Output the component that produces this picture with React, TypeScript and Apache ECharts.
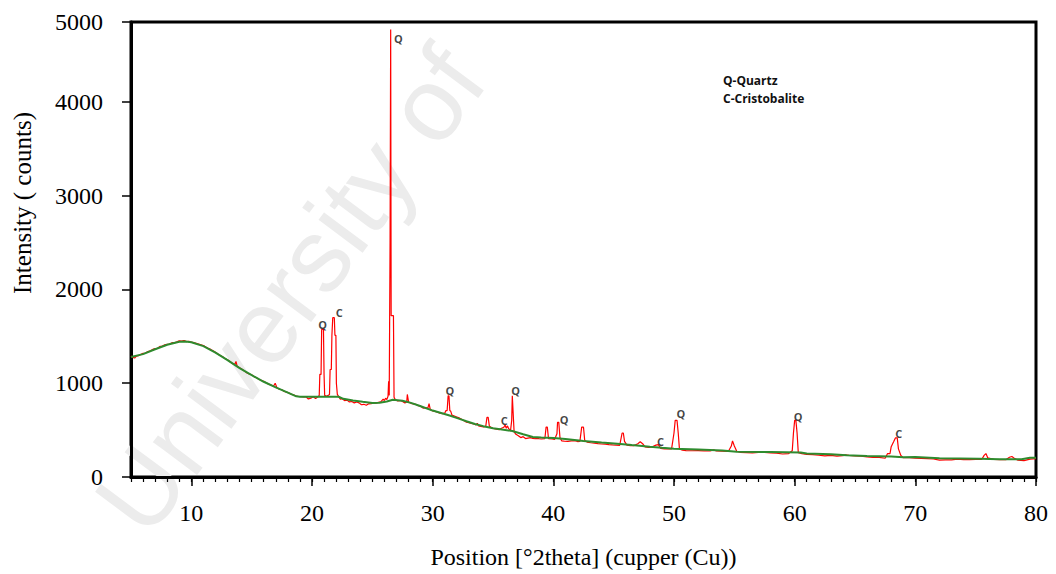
import React, { useEffect, useRef } from "react";
import * as echarts from "echarts";

// Measured diffraction pattern: [2theta, counts]
const measured: number[][] = [
  [5.0, 1290], [5.15, 1275], [5.3, 1268], [5.45, 1290], [5.6, 1292], [5.8, 1305], [6.0, 1318], [6.2, 1322],
  [6.4, 1338], [6.6, 1345], [6.8, 1360], [7.0, 1368], [7.2, 1372], [7.4, 1392], [7.6, 1395], [7.8, 1408],
  [8.0, 1415], [8.2, 1418], [8.4, 1432], [8.6, 1430], [8.8, 1440], [9.0, 1452], [9.2, 1448], [9.4, 1455],
  [9.6, 1443], [9.8, 1447], [10.0, 1438], [10.2, 1432], [10.4, 1425], [10.6, 1418], [10.8, 1410], [11.0, 1402],
  [11.2, 1385], [11.4, 1372], [11.6, 1360], [11.8, 1345], [12.0, 1330], [12.2, 1312], [12.4, 1295], [12.6, 1282],
  [12.8, 1262], [13.0, 1250], [13.2, 1232], [13.4, 1210], [13.6, 1200], [13.7, 1232], [13.8, 1180], [14.0, 1165],
  [14.2, 1148], [14.4, 1130], [14.6, 1110], [14.8, 1098], [15.0, 1090], [15.2, 1070], [15.4, 1058], [15.6, 1042],
  [15.8, 1030], [16.0, 1020], [16.2, 1005], [16.4, 990], [16.6, 980], [16.8, 968], [16.95, 1000], [17.1, 950],
  [17.3, 935], [17.5, 930], [17.7, 912], [17.9, 905], [18.1, 895], [18.3, 880], [18.5, 875], [18.7, 862],
  [18.9, 858], [19.1, 856], [19.3, 855], [19.5, 856], [19.7, 832], [19.9, 840], [20.1, 855], [20.3, 838],
  [20.5, 855], [20.6, 870], [20.65, 1094], [20.75, 1094], [20.8, 1573], [20.95, 1573], [21.0, 1090], [21.05, 870],
  [21.2, 860], [21.35, 870], [21.45, 880], [21.5, 1146], [21.6, 1146], [21.65, 1510], [21.72, 1698], [21.85, 1698],
  [21.9, 1510], [21.98, 1510], [22.02, 1000], [22.1, 880], [22.2, 860], [22.35, 830], [22.5, 835], [22.7, 815],
  [22.9, 820], [23.1, 800], [23.3, 805], [23.5, 790], [23.7, 800], [23.9, 790], [24.1, 770], [24.3, 775],
  [24.5, 765], [24.7, 780], [24.9, 782], [25.1, 790], [25.3, 788], [25.5, 795], [25.7, 800], [25.9, 830],
  [26.0, 815], [26.1, 840], [26.2, 825], [26.3, 860], [26.35, 1020], [26.4, 870], [26.44, 870], [26.47, 2510],
  [26.52, 4770], [26.56, 1720], [26.75, 1720], [26.8, 850], [26.9, 825], [27.1, 810], [27.3, 815], [27.5, 805],
  [27.7, 790], [27.85, 800], [27.9, 880], [28.0, 800], [28.2, 785], [28.4, 780], [28.6, 775], [28.8, 760],
  [29.0, 755], [29.2, 735], [29.4, 740], [29.6, 735], [29.7, 781], [29.8, 720], [30.0, 705], [30.2, 700],
  [30.4, 690], [30.6, 680], [30.8, 676], [31.0, 680], [31.1, 708], [31.2, 708], [31.28, 865], [31.35, 865],
  [31.42, 708], [31.5, 700], [31.6, 660], [31.8, 650], [32.0, 640], [32.2, 630], [32.4, 615], [32.6, 600],
  [32.8, 585], [33.0, 578], [33.2, 570], [33.4, 565], [33.6, 555], [33.7, 573], [33.8, 545], [34.0, 540],
  [34.2, 535], [34.4, 540], [34.5, 635], [34.6, 635], [34.7, 540], [34.9, 525], [35.1, 515], [35.3, 510],
  [35.5, 505], [35.7, 520], [35.9, 530], [36.0, 555], [36.1, 520], [36.2, 545], [36.3, 515], [36.45, 490],
  [36.55, 604], [36.6, 865], [36.65, 865], [36.7, 604], [36.75, 480], [36.9, 455], [37.1, 440], [37.3, 420],
  [37.5, 430], [37.7, 410], [37.9, 415], [38.1, 420], [38.3, 412], [38.5, 408], [38.8, 408], [39.0, 405],
  [39.3, 410], [39.4, 531], [39.5, 531], [39.6, 410], [39.9, 405], [40.1, 400], [40.3, 460], [40.35, 583],
  [40.45, 583], [40.55, 420], [40.7, 385], [40.9, 382], [41.2, 380], [41.5, 385], [41.8, 388], [42.0, 378],
  [42.2, 380], [42.35, 531], [42.5, 531], [42.6, 390], [42.8, 372], [43.1, 365], [43.4, 360], [43.7, 355],
  [44.0, 352], [44.3, 350], [44.6, 345], [44.9, 342], [45.2, 340], [45.5, 338], [45.7, 469], [45.8, 469],
  [45.9, 380], [46.1, 340], [46.4, 333], [46.7, 335], [47.0, 355], [47.2, 375], [47.4, 355], [47.6, 320],
  [47.9, 315], [48.2, 322], [48.5, 340], [48.7, 345], [48.9, 305], [49.2, 300], [49.5, 300], [49.8, 300],
  [50.0, 469], [50.1, 604], [50.25, 604], [50.35, 469], [50.45, 300], [50.7, 285], [51.0, 282], [51.5, 280],
  [52.0, 282], [52.5, 278], [53.0, 278], [53.3, 290], [53.5, 278], [54.0, 275], [54.5, 272], [54.75, 330],
  [54.85, 385], [55.0, 330], [55.2, 275], [55.5, 262], [56.0, 260], [56.5, 258], [57.0, 262], [57.5, 262],
  [58.0, 258], [58.5, 255], [59.0, 245], [59.5, 250], [59.8, 280], [59.9, 469], [60.0, 604], [60.1, 604],
  [60.2, 469], [60.3, 260], [60.6, 250], [61.0, 240], [61.5, 238], [62.0, 232], [62.5, 225], [63.0, 230],
  [63.5, 222], [64.0, 228], [64.2, 235], [64.5, 230], [65.0, 225], [65.5, 222], [66.0, 215], [66.5, 210],
  [67.0, 210], [67.5, 200], [67.7, 250], [67.9, 250], [68.0, 323], [68.2, 375], [68.35, 417], [68.5, 417],
  [68.6, 300], [68.8, 230], [69.0, 205], [69.5, 205], [70.0, 200], [70.5, 198], [71.0, 195], [71.5, 192],
  [72.0, 180], [72.5, 182], [73.0, 182], [73.5, 190], [74.0, 185], [74.5, 185], [75.0, 187], [75.5, 187],
  [75.7, 230], [75.85, 250], [76.0, 205], [76.5, 188], [77.0, 185], [77.5, 185], [77.8, 210], [78.0, 218],
  [78.2, 200], [78.5, 180], [79.0, 175], [79.5, 190], [80.0, 195],
];

// Fitted background: [2theta, counts]
const background: number[][] = [
  [5, 1280], [6, 1310], [7, 1362], [8, 1410], [9, 1442], [9.5, 1445], [10, 1436], [11, 1395],
  [12, 1325], [13, 1245], [14, 1160], [15, 1085], [16, 1015], [17, 955], [18, 900], [18.7, 860],
  [19, 855], [22.2, 855], [22.6, 833], [23.4, 815], [24.2, 802], [25, 790], [25.6, 792], [26.2, 805],
  [26.7, 823], [27.5, 812], [28.2, 790], [28.9, 760], [30, 708], [31.4, 656], [32.1, 625], [32.8, 594],
  [33.5, 565], [34.2, 542], [35, 520], [35.6, 510], [36.6, 490], [37.5, 455], [38.3, 427], [39, 420],
  [40, 417], [41, 405], [42.5, 385], [44, 368], [45.3, 354], [46.5, 340], [48, 323], [49, 312],
  [50, 302], [52, 292], [54, 282], [55.2, 270], [58, 266], [60.5, 262], [61, 250], [63, 242],
  [64.3, 233], [66, 225], [68, 218], [69, 210], [70, 212], [72, 200], [75.3, 194], [77, 190],
  [78.8, 190], [79.5, 205], [80, 205],
];

// Phase labels
const peakNames: string[] = ["Q", "C", "Q", "Q", "C", "Q", "Q", "C", "Q", "Q", "C"];
const peakX: number[] = [20.88, 22.26, 27.15, 31.43, 35.93, 36.87, 40.9, 48.88, 50.57, 60.29, 68.63];
const peakY: number[] = [1628, 1757, 4674, 924, 597, 924, 611, 378, 680, 646, 465];

const yTickLabels: string[] = ["0", "1000", "2000", "3000", "4000", "5000"];
const legendLines: string[] = ["Q-Quartz", "C-Cristobalite"];

const serif = "'Liberation Serif', 'Times New Roman', serif";
const sans = "'Open Sans', 'Liberation Sans', sans-serif";

export default function App() {
  const ref = useRef<HTMLDivElement>(null);

  useEffect(() => {
    if (!ref.current) return;
    const chart = echarts.init(ref.current, undefined, { renderer: "svg" });
    chart.setOption({
      animation: false,
      backgroundColor: "#ffffff",
      grid: {
        left: 131,
        right: 20,
        top: 22,
        bottom: 86,
        show: true,
        borderColor: "#000",
        borderWidth: 3,
        backgroundColor: "transparent",
      },
      xAxis: [
        {
          type: "value",
          min: 5,
          max: 80,
          interval: 1,
          position: "bottom",
          axisLine: { show: false },
          axisTick: { show: true, inside: false, length: 5, lineStyle: { color: "#000", width: 1.2 } },
          axisLabel: { show: false },
          splitLine: { show: false },
        },
        {
          type: "value",
          min: 5,
          max: 80,
          splitNumber: 8,
          minInterval: 10,
          maxInterval: 10,
          position: "bottom",
          name: "Position [°2theta] (cupper (Cu))",
          nameLocation: "middle",
          nameGap: 68,
          nameTextStyle: { fontFamily: serif, fontSize: 24, color: "#000" },
          axisLine: { show: true, lineStyle: { color: "#000", width: 3 } },
          axisTick: { show: true, inside: false, length: 9, lineStyle: { color: "#000", width: 1.5 } },
          axisLabel: {
            showMinLabel: false,
            margin: 24,
            fontFamily: serif,
            fontSize: 24,
            color: "#000",
          },
          splitLine: { show: false },
        },
      ],
      yAxis: {
        type: "value",
        min: 0,
        max: 4850,
        interval: 1000,
        axisLine: { show: true, lineStyle: { color: "#000", width: 3 } },
        axisTick: { show: true, inside: false, length: 9, lineStyle: { color: "#000", width: 1.5 } },
        axisLabel: {
          margin: 28,
          fontFamily: serif,
          fontSize: 24,
          color: "#000",
          formatter: (_v: number, i: number) => yTickLabels[i] ?? "",
        },
        splitLine: { show: false },
      },
      graphic: [
        {
          type: "text",
          x: 290,
          y: 290,
          rotation: 0.93,
          z: 0,
          silent: true,
          style: {
            text: "University of",
            fontFamily: "'Liberation Sans', sans-serif",
            fontSize: 104,
            fill: "#ececec",
            align: "center",
            verticalAlign: "middle",
          },
        },
        {
          type: "text",
          x: 22,
          y: 203,
          rotation: Math.PI / 2,
          style: {
            text: "Intensity ( counts)",
            fontFamily: serif,
            fontSize: 25,
            fill: "#000",
            align: "center",
            verticalAlign: "middle",
          },
        },
        ...legendLines.map((t, i) => ({
          type: "text",
          x: 723,
          y: 80 + i * 18,
          style: {
            text: t,
            fontFamily: sans,
            fontWeight: "bold",
            fontSize: 12,
            fill: "#111",
            align: "left",
            verticalAlign: "middle",
          },
        })),
      ],
      series: [
        {
          type: "line",
          xAxisIndex: 1,
          data: measured,
          symbol: "none",
          z: 3,
          lineStyle: { color: "#ff0000", width: 1.2 },
        },
        {
          type: "line",
          xAxisIndex: 1,
          data: background,
          symbol: "none",
          z: 4,
          lineStyle: { color: "#2e8b2e", width: 2 },
        },
        {
          type: "scatter",
          xAxisIndex: 1,
          z: 5,
          symbolSize: 1,
          itemStyle: { color: "transparent" },
          data: peakX.map((x, i) => ({ value: [x, peakY[i]], name: peakNames[i] })),
          label: {
            show: true,
            position: "inside",
            formatter: "{b}",
            fontFamily: sans,
            fontWeight: "bold",
            fontSize: 11,
            color: "#111",
          },
        },
      ],
    });
    return () => chart.dispose();
  }, []);

  return (
    <div
      ref={ref}
      style={{ position: "absolute", left: 0, top: 0, width: 1056, height: 574 }}
    />
  );
}
